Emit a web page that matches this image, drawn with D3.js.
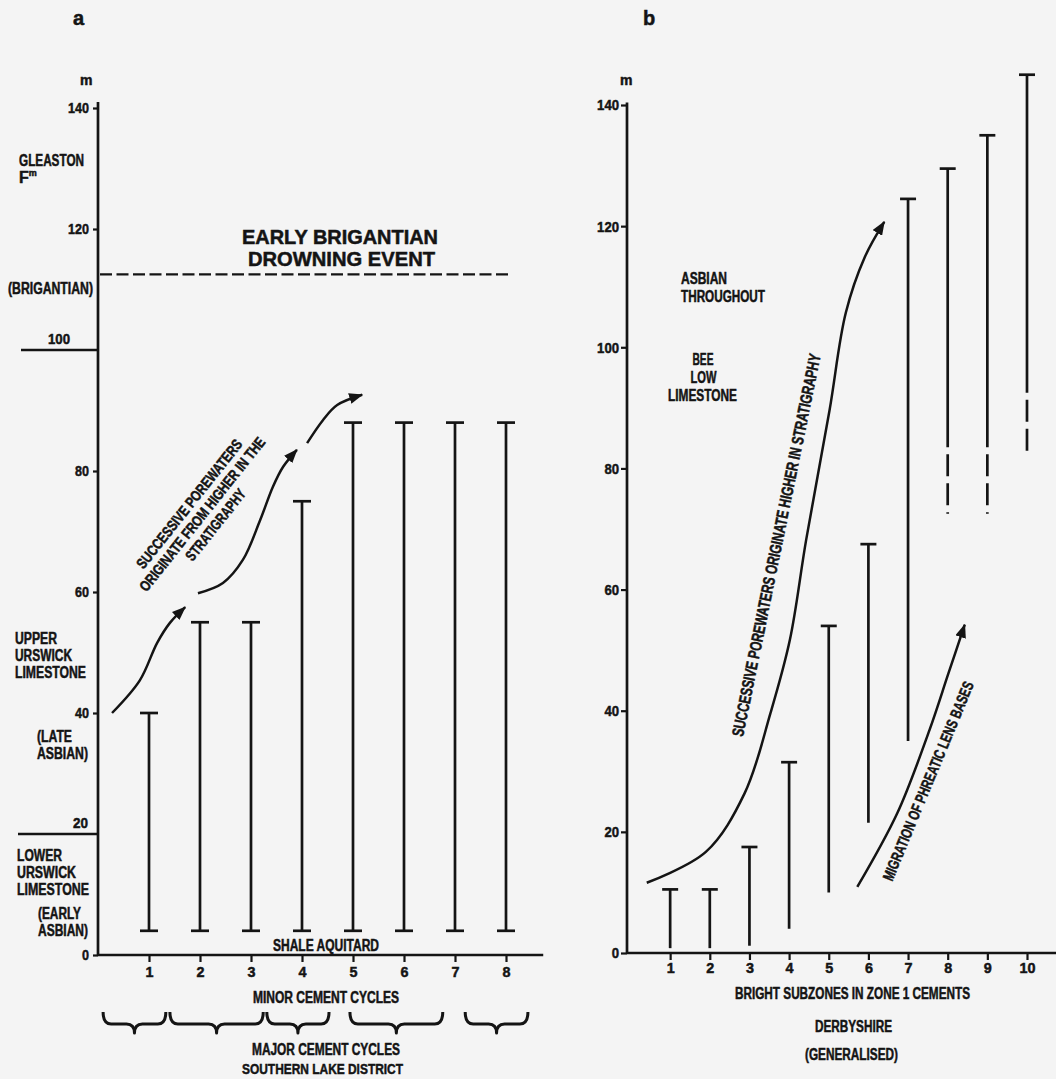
<!DOCTYPE html>
<html><head><meta charset="utf-8">
<script src="https://cdn.jsdelivr.net/npm/d3@7"></script>
<style>
html,body{margin:0;padding:0;background:#f4f4f4;}
svg{display:block;}
text{font-family:"Liberation Sans Narrow","Liberation Sans",Arial,sans-serif;font-weight:bold;fill:#141414;stroke:#141414;stroke-width:0.5px;}
</style></head><body>
<svg id="chart" width="1056" height="1079"></svg>
<script>
// ---------- Panel a : Southern Lake District ----------
const cyclesA = [1, 2, 3, 4, 5, 6, 7, 8];
const topA    = [40, 55, 55, 75, 88, 88, 88, 88];
const baseA   = [4, 4, 4, 4, 4, 4, 4, 4];
const yTicksA = [0, 40, 60, 80, 120, 140];
const boundariesA = [100, 20];
const drowningLevelA = 112.5;
const majorCyclesA = [[0.1, 1.33], [1.41, 3.24], [3.31, 4.53], [4.94, 6.76], [7.2, 8.43]];
const arrowA1 = [[0.275, 40], [0.82, 45.4], [1.16, 51.6], [1.41, 54.9], [1.71, 57.5]];
const arrowA2 = [[1.96, 59.8], [2.45, 61.5], [2.84, 65.3], [3.18, 71.9], [3.43, 77.4], [3.63, 80.7], [3.9, 83.5]];
const arrowA3 = [[4.1, 84.6], [4.41, 88.4], [4.69, 90.9], [5.18, 92.6]];

// ---------- Panel b : Derbyshire ----------
const zonesB   = [1, 2, 3, 4, 5, 6, 7, 8, 9, 10];
const topB     = [10.5, 10.5, 17.5, 31.5, 54, 67.5, 124.5, 129.5, 135, 145];
const baseB    = [0.8, 0.8, 1.2, 4, 10, 21.5, 35, 83.5, 83.5, 92.5];
const dashBaseB = [null, null, null, null, null, null, null, 72.5, 72.5, 82.5];
const yTicksB  = [0, 20, 40, 60, 80, 100, 120, 140];
const porewaterCurveB = [[0.41, 11.6], [1.9, 16.7], [2.88, 26.4], [3.53, 39.6], [4.02, 51.7], [4.43, 68.2], [5.02, 89.6], [5.43, 105.7], [5.91, 114.9], [6.4, 120.7]];
const phreaticCurveB  = [[5.72, 10.9], [6.73, 23.1], [7.54, 36.8], [8.02, 46.2], [8.43, 54.2]];

const svg = d3.select('#chart');
const ink = '#141414';
const SW = 2.7;
const FONT = '"Liberation Sans Narrow","Liberation Sans",Arial,sans-serif';

const defs = svg.append('defs');
defs.append('marker').attr('id', 'ah').attr('viewBox', '0 0 14 11')
  .attr('refX', 13).attr('refY', 5.5).attr('markerWidth', 14).attr('markerHeight', 11)
  .attr('markerUnits', 'userSpaceOnUse').attr('orient', 'auto')
  .append('path').attr('d', 'M0,0 L14,5.5 L0,11 Z').attr('fill', ink);

function label(g, str, x, y, o = {}) {
  const t = g.append('text').attr('x', x).attr('y', y)
    .attr('font-size', o.size || 16).attr('text-anchor', o.anchor || 'start').text(str);
  if (o.len) t.attr('textLength', o.len).attr('lengthAdjust', 'spacingAndGlyphs');
  return t;
}
function styleTicks(ax, perChar) {
  ax.select('.domain').remove();
  ax.selectAll('line').attr('stroke', ink).attr('stroke-width', 2.2);
  ax.selectAll('text').attr('font-size', 15.5).attr('fill', ink).attr('font-family', FONT)
    .attr('textLength', d => String(d).length * perChar).attr('lengthAdjust', 'spacingAndGlyphs');
}

// scales
const xA = d3.scaleLinear().domain([0, 1]).range([98, 149]);
const yA = d3.scaleLinear().domain([0, 140]).range([955, 108]);
const xB = d3.scaleLinear().domain([0, 1]).range([630.5, 670.15]);
const yB = d3.scaleLinear().domain([0, 140]).range([953, 105]);

const curve = d3.curveCatmullRom.alpha(0.5);
const fmt = d3.format('d');

// ================= PANEL A =================
const gA = svg.append('g');
label(gA, 'a', 73, 25, {size: 20});
label(gA, 'm', 80, 85, {size: 14});

gA.append('line').attr('x1', xA(0)).attr('x2', xA(0)).attr('y1', yA(141)).attr('y2', yA(0) + 1)
  .attr('stroke', ink).attr('stroke-width', SW);
gA.append('line').attr('x1', xA(0)).attr('x2', xA(8.73)).attr('y1', yA(0)).attr('y2', yA(0))
  .attr('stroke', ink).attr('stroke-width', SW);

const axYA = gA.append('g').attr('transform', `translate(${xA(0)},0)`)
  .call(d3.axisLeft(yA).tickValues(yTicksA).tickFormat(fmt).tickSize(5).tickPadding(4).tickSizeOuter(0));
styleTicks(axYA, 7);

const axXA = gA.append('g').attr('transform', `translate(0,${yA(0)})`)
  .call(d3.axisBottom(xA).tickValues(cyclesA).tickFormat(fmt).tickSize(7).tickPadding(4).tickSizeOuter(0));
styleTicks(axXA, 8);

// formation boundaries (100 and 20) with labels above
const bLeft = {100: 21, 20: 18};
const bLab = {100: [48, 22], 20: [73, 15]};
boundariesA.forEach(v => {
  gA.append('line').attr('x1', bLeft[v]).attr('x2', xA(0)).attr('y1', yA(v)).attr('y2', yA(v))
    .attr('stroke', ink).attr('stroke-width', 2.3);
  label(gA, fmt(v), bLab[v][0], yA(v) - 6, {size: 15.5, len: bLab[v][1]});
});

// drowning event dashed line
gA.append('line').attr('x1', xA(0) + 2).attr('x2', xA(8.1)).attr('y1', yA(drowningLevelA)).attr('y2', yA(drowningLevelA))
  .attr('stroke', ink).attr('stroke-width', 2.2).attr('stroke-dasharray', '12,4.5');

// range bars (I-shape)
const capA = 9;
cyclesA.forEach((c, i) => {
  const x = xA(c);
  gA.append('line').attr('x1', x).attr('x2', x).attr('y1', yA(topA[i])).attr('y2', yA(baseA[i]))
    .attr('stroke', ink).attr('stroke-width', SW);
  [topA[i], baseA[i]].forEach(v => gA.append('line').attr('x1', x - capA).attr('x2', x + capA)
    .attr('y1', yA(v)).attr('y2', yA(v)).attr('stroke', ink).attr('stroke-width', SW));
});

// arrows
const lineA = d3.line().x(d => xA(d[0])).y(d => yA(d[1])).curve(curve);
[arrowA1, arrowA2, arrowA3].forEach(a => gA.append('path').attr('d', lineA(a))
  .attr('fill', 'none').attr('stroke', ink).attr('stroke-width', 2.5).attr('marker-end', 'url(#ah)'));

// rotated annotation
const rA = gA.append('g').attr('transform', 'translate(202,514) rotate(-51.5)');
label(rA, 'SUCCESSIVE POREWATERS', -80, -16.5 + 5.5, {size: 15, len: 160});
label(rA, 'ORIGINATE FROM HIGHER IN THE', -96, 5.5, {size: 15, len: 192});
label(rA, 'STRATIGRAPHY', -43.5, 17 + 5.5, {size: 15, len: 87});

// stratigraphic labels
label(gA, 'GLEASTON', 19, 166, {len: 65});
const fm = label(gA, 'F', 19, 183);
fm.append('tspan').attr('font-size', 9).attr('dy', -7).text('m');
label(gA, '(BRIGANTIAN)', 8, 294, {len: 85});
label(gA, 'EARLY BRIGANTIAN', 242, 244, {size: 19.5, len: 196});
label(gA, 'DROWNING EVENT', 248, 266, {size: 19.5, len: 187});
label(gA, 'UPPER', 15, 644, {len: 42});
label(gA, 'URSWICK', 15, 661, {len: 57});
label(gA, 'LIMESTONE', 15, 678, {len: 71});
label(gA, '(LATE', 37, 742, {len: 35});
label(gA, 'ASBIAN)', 37, 759, {len: 51});
label(gA, 'LOWER', 17, 861, {len: 45});
label(gA, 'URSWICK', 17, 878, {len: 59});
label(gA, 'LIMESTONE', 17, 895, {len: 72});
label(gA, '(EARLY', 38, 919, {len: 43});
label(gA, 'ASBIAN)', 38, 936, {len: 50});
label(gA, 'SHALE AQUITARD', 273, 951, {len: 106});
label(gA, 'MINOR CEMENT CYCLES', 253, 1003, {len: 146});
label(gA, 'MAJOR CEMENT CYCLES', 252, 1055, {len: 148});
label(gA, 'SOUTHERN LAKE DISTRICT', 242, 1074, {size: 15.5, len: 161});

// major cycle braces
function bracePath(x0, x1, yTop, yMid, yTip) {
  const m = (x0 + x1) / 2, r = 8;
  return `M${x0},${yTop} Q${x0},${yMid} ${x0 + r},${yMid} L${m - r},${yMid} Q${m},${yMid} ${m},${yTip} ` +
         `Q${m},${yMid} ${m + r},${yMid} L${x1 - r},${yMid} Q${x1},${yMid} ${x1},${yTop}`;
}
majorCyclesA.forEach(([a, b]) => gA.append('path').attr('d', bracePath(xA(a), xA(b), 1012, 1024, 1033))
  .attr('fill', 'none').attr('stroke', ink).attr('stroke-width', 3).attr('stroke-linejoin', 'round'));

// ================= PANEL B =================
const gB = svg.append('g');
label(gB, 'b', 643, 25, {size: 20});
label(gB, 'm', 620, 85, {size: 14});

gB.append('line').attr('x1', 627).attr('x2', 627).attr('y1', yB(140.4)).attr('y2', yB(0) + 1)
  .attr('stroke', ink).attr('stroke-width', SW);
gB.append('line').attr('x1', 627).attr('x2', 1056).attr('y1', yB(0)).attr('y2', yB(0))
  .attr('stroke', ink).attr('stroke-width', SW);

const axYB = gB.append('g').attr('transform', 'translate(627,0)')
  .call(d3.axisLeft(yB).tickValues(yTicksB).tickFormat(fmt).tickSize(6).tickPadding(2).tickSizeOuter(0));
styleTicks(axYB, 7.3);

const axXB = gB.append('g').attr('transform', `translate(0,${yB(0)})`)
  .call(d3.axisBottom(xB).tickValues(zonesB).tickFormat(fmt).tickSize(7).tickPadding(2).tickSizeOuter(0));
styleTicks(axXB, 8);

// T bars
const capB = 8;
zonesB.forEach((z, i) => {
  const x = xB(z);
  gB.append('line').attr('x1', x).attr('x2', x).attr('y1', yB(topB[i])).attr('y2', yB(baseB[i]))
    .attr('stroke', ink).attr('stroke-width', SW);
  gB.append('line').attr('x1', x - capB).attr('x2', x + capB).attr('y1', yB(topB[i])).attr('y2', yB(topB[i]))
    .attr('stroke', ink).attr('stroke-width', SW);
  if (dashBaseB[i] !== null) {
    gB.append('line').attr('x1', x).attr('x2', x).attr('y1', yB(baseB[i])).attr('y2', yB(dashBaseB[i]))
      .attr('stroke', ink).attr('stroke-width', SW).attr('stroke-dasharray', '22,7').attr('stroke-dashoffset', 22);
  }
});

const lineB = d3.line().x(d => xB(d[0])).y(d => yB(d[1])).curve(curve);
[porewaterCurveB, phreaticCurveB].forEach(a => gB.append('path').attr('d', lineB(a))
  .attr('fill', 'none').attr('stroke', ink).attr('stroke-width', 2.5).attr('marker-end', 'url(#ah)'));

const rB1 = gB.append('g').attr('transform', 'translate(776,545) rotate(-78.5)');
label(rB1, 'SUCCESSIVE POREWATERS ORIGINATE HIGHER IN STRATIGRAPHY', -195, 6, {size: 16.5, len: 390});
const rB2 = gB.append('g').attr('transform', 'translate(928,781) rotate(-67.5)');
label(rB2, 'MIGRATION OF PHREATIC LENS BASES', -107, 5.5, {size: 15.5, len: 214});

label(gB, 'ASBIAN', 681, 284, {len: 46});
label(gB, 'THROUGHOUT', 681, 302, {len: 84});
label(gB, 'BEE', 692.5, 365, {len: 21});
label(gB, 'LOW', 690.5, 383, {len: 26});
label(gB, 'LIMESTONE', 668, 401, {len: 69});
label(gB, 'BRIGHT SUBZONES IN ZONE 1 CEMENTS', 735, 999, {len: 235});
label(gB, 'DERBYSHIRE', 815, 1032, {len: 77});
label(gB, '(GENERALISED)', 805, 1060, {len: 93});
</script></body></html>
